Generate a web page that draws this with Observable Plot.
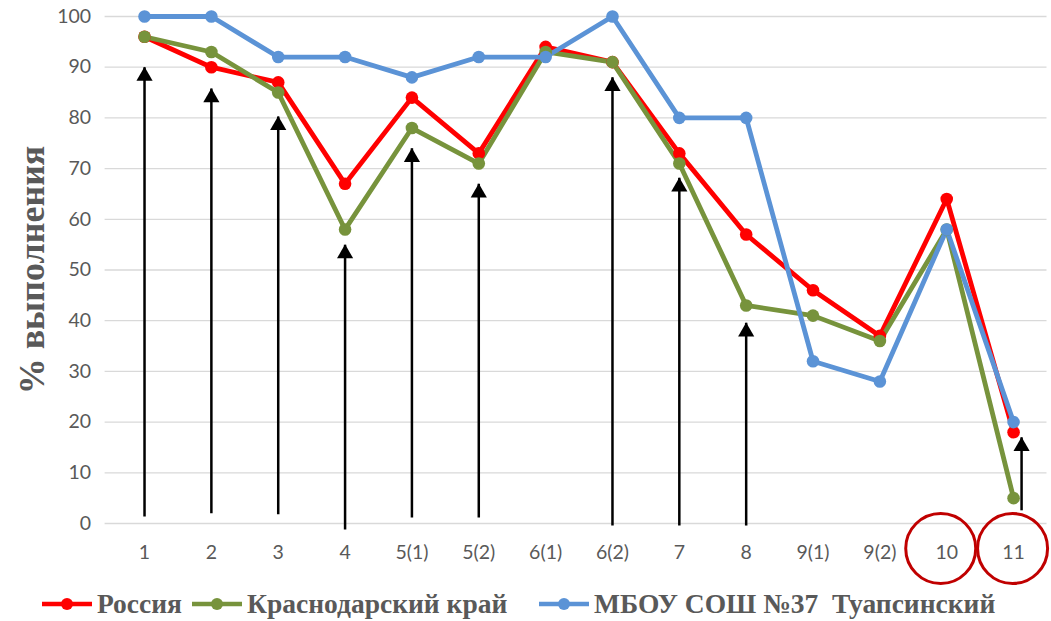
<!DOCTYPE html>
<html>
<head>
<meta charset="utf-8">
<script src="https://cdn.jsdelivr.net/npm/d3@7"></script>
<script src="https://cdn.jsdelivr.net/npm/@observablehq/plot@0.6"></script>
<style>
  html, body { margin: 0; padding: 0; background: #fff; }
  #chart { width: 1051px; height: 621px; position: relative; overflow: hidden; }
  #legend { position: absolute; left: 0; top: 588px; width: 1051px; height: 33px; font-family: "Liberation Serif", serif; font-weight: bold; font-size: 27.5px; color: #595959; white-space: pre; }
  .item { display: flex; align-items: center; position: absolute; top: 0; }
  .item svg { margin-right: 3px; }
</style>
</head>
<body>
<div id="chart"></div>
<script>
const categories = ["1","2","3","4","5(1)","5(2)","6(1)","6(2)","7","8","9(1)","9(2)","10","11"];
const russia    = [96, 90, 87, 67, 84, 73, 94, 91, 73, 57, 46, 37, 64, 18];
const krasnodar = [96, 93, 85, 58, 78, 71, 93, 91, 71, 43, 41, 36, 58, 5];
const school    = [100, 100, 92, 92, 88, 92, 92, 100, 80, 80, 32, 28, 58, 20];
const seriesNames = ["Россия", "Краснодарский край", "МБОУ СОШ №37  Туапсинский"];
const seriesColors = ["#FF0000", "#77933C", "#5B93D6"];
const yTicks = [0, 10, 20, 30, 40, 50, 60, 70, 80, 90, 100];
const yTitle = "% выполнения";
// annotation arrows: category, start value, tip value
const arrowCats = ["1","2","3","4","5(1)","5(2)","6(2)","7","8"];
const arrowFrom = [1.4, 2, 1.8, -1.2, 1.2, 1.2, -0.4, -0.4, -0.4];
const arrowTo   = [90, 85.8, 80.3, 55, 74, 67, 88, 68.2, 39.6];
const lastArrowCat = ["11"];
const lastArrowFrom = [2.6];
const lastArrowTo = [17];
const circled = ["10", "11"];

const seriesValues = [russia, krasnodar, school];
const rows = seriesValues.flatMap((vals, s) =>
  vals.map((v, i) => ({series: seriesNames[s], cat: categories[i], value: v})));
const arrows = arrowCats.map((c, i) => ({cat: c, from: arrowFrom[i], to: arrowTo[i]}));
const lastArrows = lastArrowCat.map((c, i) => ({cat: c, from: lastArrowFrom[i], to: lastArrowTo[i]}));

const W = 1051, H = 586;
const tickFont = "Lato, 'Open Sans', sans-serif";
const plot = Plot.plot({
  width: W,
  height: H,
  marginTop: 16,
  marginBottom: H - 523,
  marginLeft: 110.6,
  marginRight: 4.5,
  style: {background: "transparent", overflow: "visible"},
  x: {type: "point", domain: categories, padding: 0.5, round: false, label: null},
  y: {domain: [0, 100], label: null},
  color: {domain: seriesNames, range: seriesColors},
  marks: [
    Plot.ruleY(yTicks, {stroke: "#d9d9d9", strokeWidth: 1.3, insetLeft: -6}),
    Plot.axisY({ticks: yTicks, tickSize: 0, tickPadding: 20, fontSize: 19.5, fontFamily: tickFont, fill: "#595959", label: null}),
    Plot.axisX({tickSize: 0, tickPadding: 22, fontSize: 19.5, fontFamily: tickFont, fill: "#595959", label: null}),
    Plot.text([yTitle], {frameAnchor: "left", dx: -79, rotate: -90, text: d => d, fontSize: 36, fontWeight: "bold", fontFamily: "'Liberation Serif', serif", fill: "#595959", textAnchor: "middle"}),
    // arrows
    Plot.link(arrows, {x1: "cat", x2: "cat", y1: "from", y2: "to", stroke: "black", strokeWidth: 2.5}),
    Plot.dot(arrows, {x: "cat", y: "to", symbol: "triangle", r: 6, fill: "black", dy: 9}),
    Plot.link(lastArrows, {x1: "cat", x2: "cat", y1: "from", y2: "to", stroke: "black", strokeWidth: 2.5, dx: 8}),
    Plot.dot(lastArrows, {x: "cat", y: "to", symbol: "triangle", r: 6, fill: "black", dx: 8, dy: 9}),
    // series
    Plot.lineY(rows, {x: "cat", y: "value", z: "series", stroke: "series", strokeWidth: 4.8, strokeLinejoin: "round"}),
    Plot.dot(rows, {x: "cat", y: "value", fill: "series", r: 6.3}),
    // highlight circles
    Plot.dot([circled[0]], {x: d => d, frameAnchor: "bottom", dx: -6, dy: 25, r: 35, stroke: "#C00000", strokeWidth: 3, fill: "none"}),
    Plot.dot([circled[1]], {x: d => d, frameAnchor: "bottom", dx: -1, dy: 25, r: 35, stroke: "#C00000", strokeWidth: 3, fill: "none"})
  ]
});
document.getElementById("chart").appendChild(plot);

// legend
const legend = document.createElement("div");
legend.id = "legend";
const legendX = [40, 190, 537];
seriesNames.forEach((name, i) => {
  const item = document.createElement("div");
  item.className = "item";
  item.style.left = legendX[i] + "px";
  item.innerHTML = `<svg width="54" height="14"><line x1="2" x2="52" y1="7" y2="7" stroke="${seriesColors[i]}" stroke-width="4.5"/><circle cx="27" cy="7" r="6" fill="${seriesColors[i]}"/></svg><span>${name}</span>`;
  legend.appendChild(item);
});
document.getElementById("chart").appendChild(legend);
</script>
</body>
</html>
